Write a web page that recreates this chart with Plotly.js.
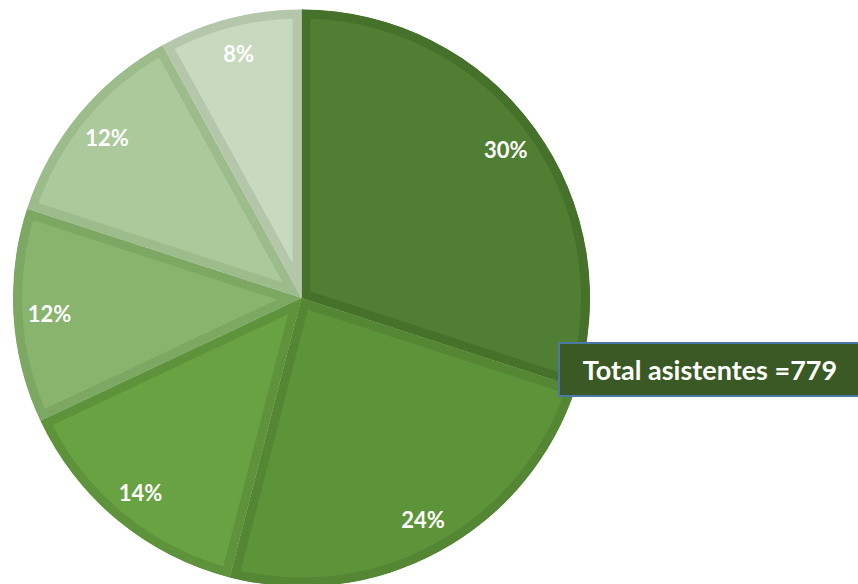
<!DOCTYPE html>
<html>
<head>
<meta charset="utf-8">
<script src="https://cdn.plot.ly/plotly-3.0.1.min.js"></script>
<style>
html,body{margin:0;padding:0;background:#fff;overflow:hidden;}
#chart{width:858px;height:590px;}
</style>
</head>
<body>
<div id="chart"></div>
<script>
// Data
const categories = ['Grupo 1', 'Grupo 2', 'Grupo 3', 'Grupo 4', 'Grupo 5', 'Grupo 6'];
const percentages = [30, 24, 14, 12, 12, 8];
const totalLabel = 'Total asistentes =779';

// Styles
const fillColors   = ['#507E32', '#5E9439', '#68A242', '#88B46E', '#ABC99B', '#C7D9BE'];
const borderColors = ['#46712B', '#548634', '#5E933B', '#7DA863', '#9DBC8C', '#B5C7AB'];
const pieDomain = {x: [0.01515, 0.68765], y: [0.00593, 0.9839]};

const slices = {
  type: 'pie',
  labels: categories,
  values: percentages,
  sort: false,
  direction: 'clockwise',
  rotation: 0,
  textinfo: 'none',
  hoverinfo: 'label+percent',
  marker: {colors: fillColors, line: {color: borderColors, width: 18}},
  domain: pieDomain,
  showlegend: false
};

// transparent ring carrying the percentage labels near the outer edge
const labelsRing = {
  type: 'pie',
  labels: categories,
  values: percentages,
  sort: false,
  direction: 'clockwise',
  rotation: 0,
  hole: 0.75,
  textinfo: 'percent',
  texttemplate: '%{percent:.0%}',
  textposition: 'inside',
  insidetextorientation: 'horizontal',
  insidetextfont: {family: 'Lato, "Open Sans", sans-serif', size: 22, color: '#FFFFFF', weight: 'bold'},
  hoverinfo: 'skip',
  marker: {colors: categories.map(() => 'rgba(0,0,0,0)'), line: {width: 0}},
  domain: pieDomain,
  showlegend: false
};

const layout = {
  width: 858,
  height: 590,
  margin: {l: 0, r: 0, t: 0, b: 0},
  paper_bgcolor: '#FFFFFF',
  plot_bgcolor: '#FFFFFF',
  showlegend: false,
  annotations: [{
    xref: 'paper', yref: 'paper',
    x: 558 / 858, xanchor: 'left',
    y: (590 - 369.5) / 590, yanchor: 'middle',
    text: '<b>' + totalLabel + '</b>',
    showarrow: false,
    font: {family: 'Lato, "Open Sans", sans-serif', size: 27, color: '#FFFFFF'},
    bgcolor: '#3A5924',
    bordercolor: '#4A78A8',
    borderwidth: 2,
    borderpad: 0,
    width: 300,
    height: 51,
    align: 'center'
  }]
};

Plotly.newPlot('chart', [slices, labelsRing], layout, {displayModeBar: false, staticPlot: true}).then(function (gd) {
  // keep each slice's border inside its own slice (inset border look)
  const ns = 'http://www.w3.org/2000/svg';
  const svg = gd.querySelector('svg.main-svg');
  let defs = svg.querySelector('defs');
  if (!defs) { defs = document.createElementNS(ns, 'defs'); svg.insertBefore(defs, svg.firstChild); }
  gd.querySelectorAll('g.slice path.surface').forEach(function (p, i) {
    const cp = document.createElementNS(ns, 'clipPath');
    cp.setAttribute('id', 'sliceclip' + i);
    const q = document.createElementNS(ns, 'path');
    q.setAttribute('d', p.getAttribute('d'));
    const tr = p.getAttribute('transform');
    if (tr) q.setAttribute('transform', tr);
    cp.appendChild(q);
    defs.appendChild(cp);
    p.setAttribute('clip-path', 'url(#sliceclip' + i + ')');
  });
});
</script>
</body>
</html>
